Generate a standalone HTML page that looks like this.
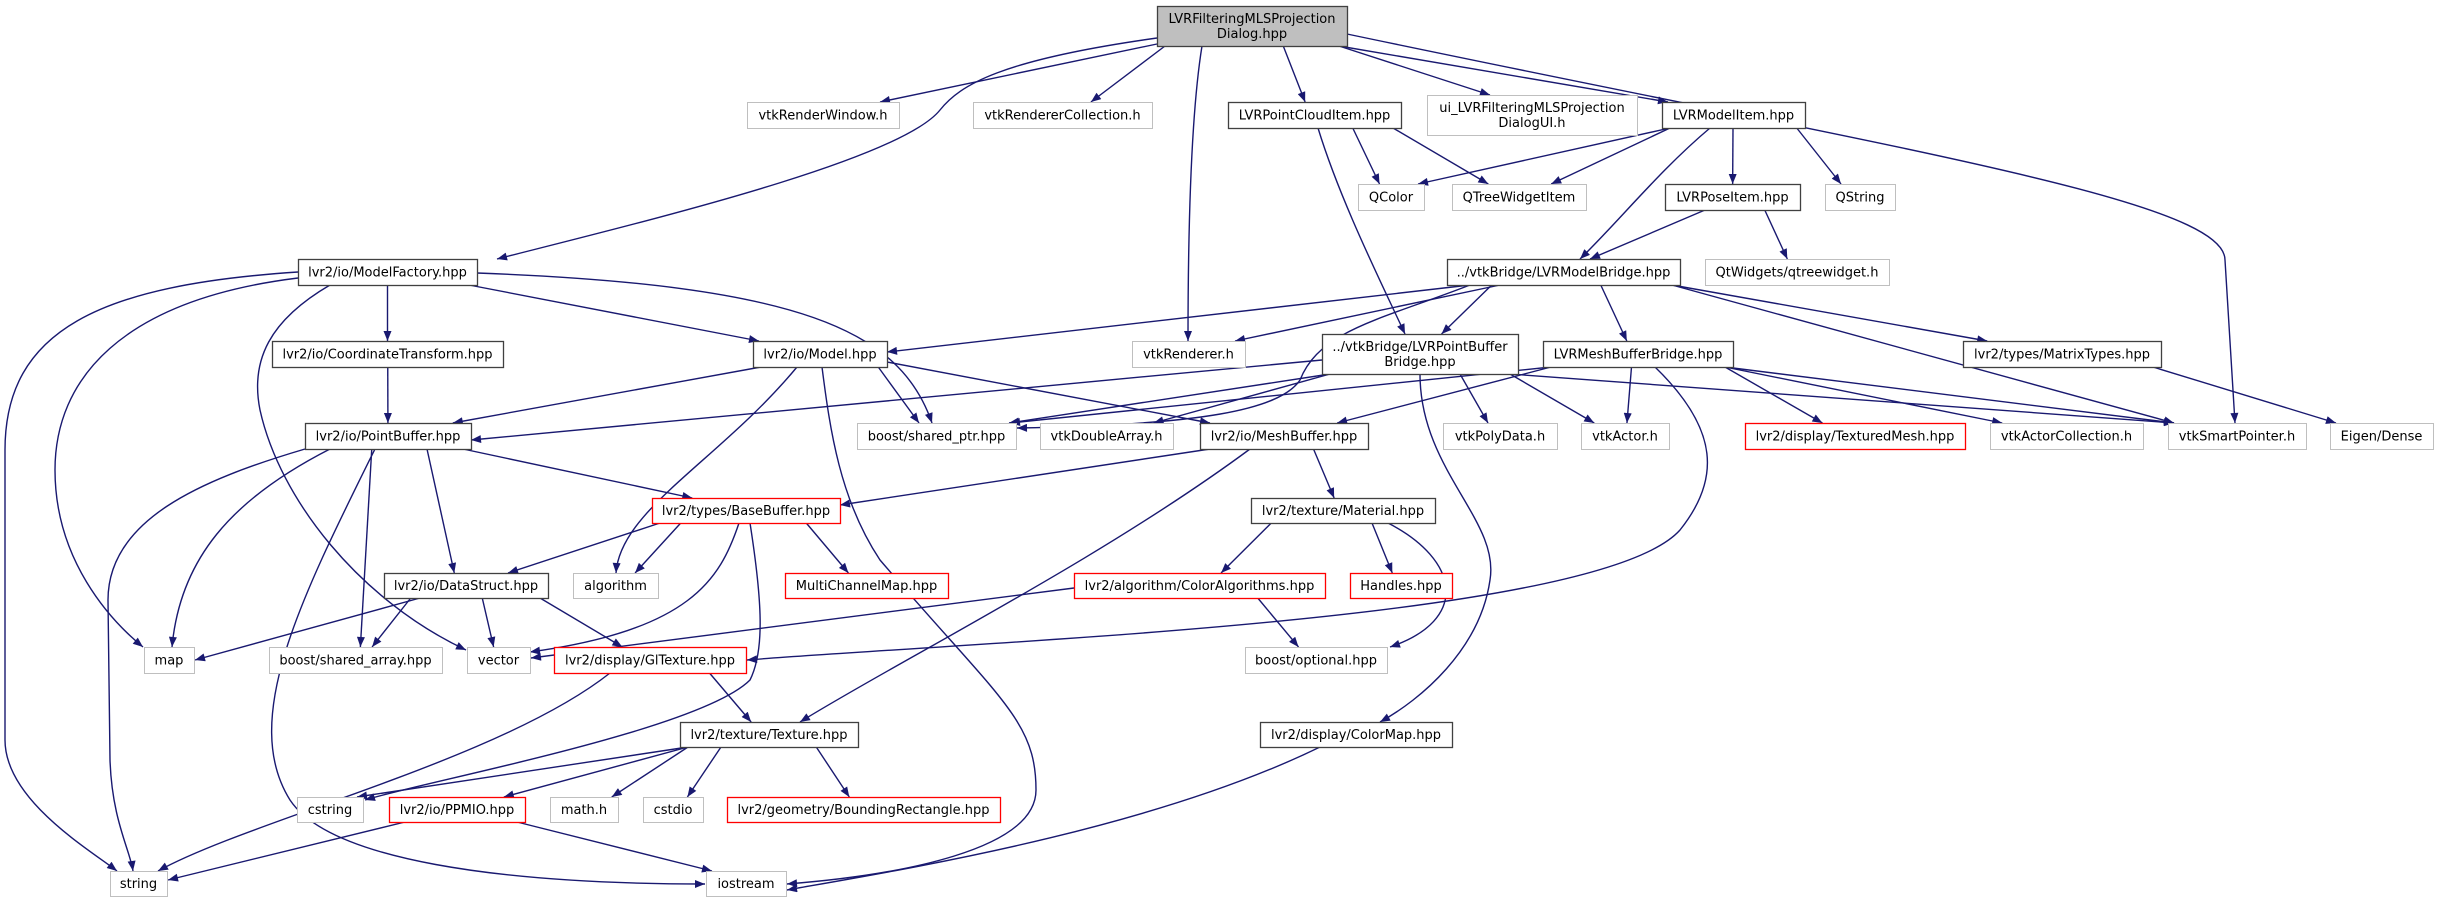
<!DOCTYPE html>
<html><head><meta charset="utf-8"><style>
html,body{margin:0;padding:0;background:#fff;}
svg{display:block;}
text{font-family:"DejaVu Sans","Liberation Sans",sans-serif;font-size:13px;fill:#000;}
</style></head><body>
<svg id="g" xmlns="http://www.w3.org/2000/svg" width="2439" height="903" viewBox="0 0 2439 903">
<defs><marker id="a" viewBox="0 0 10 8" refX="10" refY="4" markerWidth="11" markerHeight="8" markerUnits="userSpaceOnUse" orient="auto"><path d="M0,0 L10,4 L0,8 z" fill="#191970"/></marker></defs>
<g id="e"></g><g id="n"></g>
</svg>
<script>
var N={
root:[1157,6,1347,46,'LVRFilteringMLSProjection|Dialog.hpp','r'],
vrw:[747,102,899,128,'vtkRenderWindow.h','g'],
vrc:[973,102,1152,128,'vtkRendererCollection.h','g'],
pci:[1228,102,1401,128,'LVRPointCloudItem.hpp','b'],
ui:[1427,95,1637,135,'ui_LVRFilteringMLSProjection|DialogUI.h','g'],
mi:[1662,102,1805,128,'LVRModelItem.hpp','b'],
qc:[1358,184,1424,210,'QColor','g'],
qtw:[1452,184,1586,210,'QTreeWidgetItem','g'],
pi:[1665,184,1800,210,'LVRPoseItem.hpp','b'],
qs:[1825,184,1895,210,'QString','g'],
mf:[298,259,477,285,'lvr2/io/ModelFactory.hpp','b'],
mb:[1447,259,1680,285,'../vtkBridge/LVRModelBridge.hpp','b'],
qtr:[1705,259,1889,285,'QtWidgets/qtreewidget.h','g'],
ct:[272,341,503,367,'lvr2/io/CoordinateTransform.hpp','b'],
mo:[753,341,887,367,'lvr2/io/Model.hpp','b'],
vr:[1132,341,1245,367,'vtkRenderer.h','g'],
pbb:[1322,334,1518,374,'../vtkBridge/LVRPointBuffer|Bridge.hpp','b'],
mbb:[1543,341,1733,367,'LVRMeshBufferBridge.hpp','b'],
mt:[1963,341,2161,367,'lvr2/types/MatrixTypes.hpp','b'],
pb:[305,423,471,449,'lvr2/io/PointBuffer.hpp','b'],
sp:[857,423,1016,449,'boost/shared_ptr.hpp','g'],
da:[1040,423,1173,449,'vtkDoubleArray.h','g'],
mesh:[1200,423,1368,449,'lvr2/io/MeshBuffer.hpp','b'],
pd:[1443,423,1557,449,'vtkPolyData.h','g'],
ac:[1581,423,1669,449,'vtkActor.h','g'],
tm:[1745,423,1965,449,'lvr2/display/TexturedMesh.hpp','red'],
acl:[1990,423,2143,449,'vtkActorCollection.h','g'],
ssp:[2168,423,2306,449,'vtkSmartPointer.h','g'],
ed:[2330,423,2433,449,'Eigen/Dense','g'],
bb:[652,498,840,523,'lvr2/types/BaseBuffer.hpp','red'],
mat:[1251,498,1435,523,'lvr2/texture/Material.hpp','b'],
ds:[384,573,548,598,'lvr2/io/DataStruct.hpp','b'],
alg:[573,573,658,598,'algorithm','g'],
mcm:[785,573,948,598,'MultiChannelMap.hpp','red'],
ca:[1074,573,1325,598,'lvr2/algorithm/ColorAlgorithms.hpp','red'],
ha:[1350,573,1452,598,'Handles.hpp','red'],
map:[144,647,194,673,'map','g'],
sa:[269,647,442,673,'boost/shared_array.hpp','g'],
vec:[467,647,530,673,'vector','g'],
gl:[554,647,746,673,'lvr2/display/GlTexture.hpp','red'],
opt:[1245,647,1387,673,'boost/optional.hpp','g'],
tex:[680,722,858,747,'lvr2/texture/Texture.hpp','b'],
cm:[1260,722,1452,747,'lvr2/display/ColorMap.hpp','b'],
cs:[297,797,363,822,'cstring','g'],
pp:[389,797,525,822,'lvr2/io/PPMIO.hpp','red'],
mh:[550,797,618,822,'math.h','g'],
cd:[643,797,703,822,'cstdio','g'],
br:[727,797,1000,822,'lvr2/geometry/BoundingRectangle.hpp','red'],
str:[110,871,167,896,'string','g'],
io:[706,871,786,896,'iostream','g']
};
var C={
'root-mf':'M1157,38 C1000,60 960,85 940,110 C900,160 650,220 497,259',
'root-vrw':'M1157,44 L880,102',
'root-ssp':'M1347,34 C1900,150 2225,200 2225,260 L2235,423',
'root-vr':'M1202,46 C1190,120 1188,250 1188,341',
'mf-str':'M298,272 C100,285 5,330 5,450 L5,740 C5,800 90,850 117,871',
'mf-map':'M298,278 C120,300 55,380 55,470 C55,560 110,620 143,647',
'mf-vec':'M330,285 C270,320 250,360 260,410 C280,500 360,600 466,650',
'mf-sp':'M477,273 C800,285 900,330 932,423',
'mo-io':'M822,367 C830,430 840,500 880,560 C1000,700 1036,720 1036,790 C1036,850 900,875 787,884',
'mo-alg':'M797,367 C720,460 620,510 616,573',
'mo-mesh':'M887,362 L1210,423',
'pb-str':'M305,449 C200,480 108,520 108,600 L110,760 C112,820 130,850 133,871',
'pb-map':'M330,449 C230,500 180,560 172,647',
'pb-io':'M375,449 C300,600 240,720 290,800 C330,860 500,884 705,884',
'bb-vec':'M739,523 C720,580 690,630 530,652',
'bb-cs':'M750,523 C762,600 765,650 750,680 C700,730 430,780 365,800',
'pbb-cm':'M1420,374 C1420,470 1500,520 1490,580 C1480,650 1420,700 1380,722',
'mbb-gl':'M1655,367 C1720,430 1720,480 1680,530 C1600,620 1000,640 747,660',
'mat-opt':'M1388,523 C1460,560 1470,620 1390,647',
'mb-sp':'M1470,285 C1380,320 1320,330 1300,380 C1280,410 1200,425 1017,428',
'mb-vr':'M1500,285 L1235,341',
'mb-mo':'M1470,285 L887,352',
'ca-vec':'M1074,588 L531,658',
'pbb-pb':'M1322,360 L471,440',
'ds-map':'M420,598 L195,660',
'pp-str':'M405,822 L168,880',
'gl-str':'M610,673 C500,760 250,820 158,871',
'cm-io':'M1320,747 C1150,830 900,870 787,890',
'mesh-tex':'M1250,449 C1100,560 900,660 800,722',
'mesh-bb':'M1210,449 L840,505',
'pi-mb':'M1705,210 L1590,259',
'mi-mb':'M1710,128 C1660,170 1620,220 1580,259',
'pci-pbb':'M1318,128 C1340,200 1380,280 1405,334'
};
var E=[
['root','vrw'],['root','vrc'],['root','mf'],['root','vr'],['root','pci'],['root','ui'],['root','mi'],['root','ssp'],
['mf','str'],['mf','map'],['mf','vec'],['mf','ct'],['mf','mo'],['mf','sp'],
['ct','pb'],
['mo','pb'],['mo','alg'],['mo','sp'],['mo','mesh'],['mo','io'],
['pb','str'],['pb','map'],['pb','io'],['pb','sa'],['pb','ds'],['pb','bb'],
['pci','qc'],['pci','qtw'],['pci','pbb'],
['mi','qc'],['mi','qtw'],['mi','mb'],['mi','pi'],['mi','qs'],
['pi','mb'],['pi','qtr'],
['mb','mo'],['mb','vr'],['mb','sp'],['mb','pbb'],['mb','mbb'],['mb','mt'],['mb','ssp'],
['pbb','pb'],['pbb','sp'],['pbb','da'],['pbb','pd'],['pbb','ac'],['pbb','cm'],['pbb','ssp'],
['mbb','sp'],['mbb','mesh'],['mbb','ac'],['mbb','tm'],['mbb','acl'],['mbb','ssp'],['mbb','gl'],
['mt','ed'],
['mesh','bb'],['mesh','mat'],['mesh','tex'],
['mat','ca'],['mat','ha'],['mat','opt'],
['ca','vec'],['ca','opt'],
['bb','ds'],['bb','alg'],['bb','vec'],['bb','mcm'],['bb','cs'],
['ds','map'],['ds','sa'],['ds','vec'],['ds','gl'],
['gl','tex'],['gl','str'],
['tex','cs'],['tex','pp'],['tex','mh'],['tex','cd'],['tex','br'],
['pp','str'],['pp','io'],
['cm','io']
];
var S='http://www.w3.org/2000/svg',eg=document.getElementById('e'),ng=document.getElementById('n');
function cl(v,a,b){return Math.max(a,Math.min(b,v));}
E.forEach(function(e){
 var s=N[e[0]],t=N[e[1]];
 var d=C[e[0]+'-'+e[1]];
 if(!d){
  var scx=(s[0]+s[2])/2,tcx=(t[0]+t[2])/2;
  var x1=cl(scx+(tcx-scx)*0.5,s[0]+8,s[2]-8),y1=s[3];
  var x2=cl(tcx+(scx-tcx)*0.15,t[0]+6,t[2]-6),y2=t[1];
  d='M'+x1+','+y1+' L'+x2+','+y2;
 }
 var p=document.createElementNS(S,'path');
 p.setAttribute('d',d);p.setAttribute('fill','none');p.setAttribute('stroke','#191970');p.setAttribute('stroke-width','1.4');p.setAttribute('marker-end','url(#a)');
 eg.appendChild(p);
});
for(var k in N){var n=N[k];
 var r=document.createElementNS(S,'rect');
 r.setAttribute('x',n[0]+0.5);r.setAttribute('y',n[1]+0.5);r.setAttribute('width',n[2]-n[0]);r.setAttribute('height',n[3]-n[1]);
 var st={r:'#404040',g:'#bfbfbf',b:'#404040',red:'#ff0000'}[n[5]];
 r.setAttribute('fill',n[5]=='r'?'#bfbfbf':'#fff');r.setAttribute('stroke',st);r.setAttribute('stroke-width',n[5]=='g'?'1':'1.3');
 ng.appendChild(r);
 var lines=n[4].split('|'),cx=(n[0]+n[2])/2,cy=(n[1]+n[3])/2;
 lines.forEach(function(L,i){
  var t=document.createElementNS(S,'text');
  t.setAttribute('x',cx);t.setAttribute('y',cy+4.5+(i-(lines.length-1)/2)*15);t.setAttribute('text-anchor','middle');
  t.textContent=L;ng.appendChild(t);
 });
}
</script>
</body></html>
